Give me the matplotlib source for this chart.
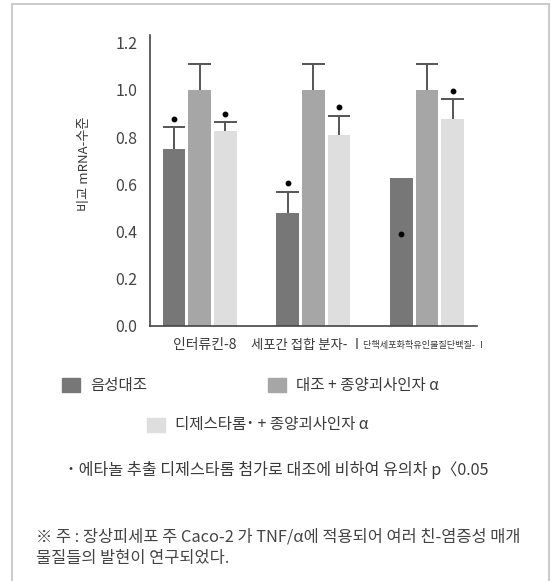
import matplotlib.pyplot as plt
from matplotlib.patches import Rectangle
import numpy as np

plt.rcParams['font.family'] = ['Noto Sans CJK KR', 'DejaVu Sans']

groups = ['인터류킨-8', '세포간 접합 분자- Ⅰ', '단핵세포화학유인물질단백질- Ⅰ']
series_names = ['음성대조', '대조 + 종양괴사인자 α', '디제스타롬˙ + 종양괴사인자 α']

neg_ctrl = [0.75, 0.48, 0.625]
neg_ctrl_err = [0.094, 0.089, 0.0]
tnf_ctrl = [1.0, 1.0, 1.0]
tnf_ctrl_err = [0.11, 0.11, 0.11]
dezesta = [0.826, 0.809, 0.877]
dezesta_err = [0.037, 0.082, 0.083]

# significance dots (p < 0.05)
neg_sig = [0.877, 0.604, 0.388]
dez_sig = [0.898, 0.929, 0.997]

yticks = [0.0, 0.2, 0.4, 0.6, 0.8, 1.0, 1.2]

colors = ['#777777', '#a6a6a6', '#dedede']
edge = '#555555'
txt = '#3a3a3a'
W, H = 551, 581

fig = plt.figure(figsize=(W / 100, H / 100), dpi=100)
ax = fig.add_axes([150 / W, 1 - 325.7 / H, 327 / W, 290.7 / H])

x = np.arange(len(groups))
width = 0.2
offset = 0.225
series = [(neg_ctrl, neg_ctrl_err), (tnf_ctrl, tnf_ctrl_err), (dezesta, dezesta_err)]
for i, (vals, errs) in enumerate(series):
    xs = x + (i - 1) * offset
    vals = np.array(vals)
    errs = np.array(errs)
    ax.bar(xs, vals, width, color=colors[i], zorder=2)
    # upper half error bars only
    m = errs > 0
    ax.vlines(xs[m], vals[m], vals[m] + errs[m], color=edge, lw=1.4, zorder=3)
    ax.hlines(vals[m] + errs[m], xs[m] - width / 2, xs[m] + width / 2,
              color=edge, lw=1.4, zorder=3)

ax.plot(x - offset, neg_sig, 'o', color='black', markersize=3.2, zorder=4)
ax.plot(x + offset, dez_sig, 'o', color='black', markersize=3.2, zorder=4)

ax.set_xlim(-0.437, 2.44)
ax.set_ylim(0, 1.233)
ax.set_yticks(yticks)
ax.set_yticklabels([f'{t:.1f}' for t in yticks], fontsize=11.5, color='#444444')
ax.set_xticks([])
ax.tick_params(length=0)
ax.tick_params(axis='y', pad=9)
for s in ['top', 'right']:
    ax.spines[s].set_visible(False)
for s in ['left', 'bottom']:
    ax.spines[s].set_color('#444444')
    ax.spines[s].set_linewidth(1.2)
ax.set_ylabel('비교 mRNA-수준', fontsize=9.5, color=txt)
ax.yaxis.set_label_coords(-0.18, 0.556)

# category labels, the last one is long and set smaller
label_x = [205, 307, 425]
label_size = [10, 9.6, 6.6]
for lx, name, fs in zip(label_x, groups, label_size):
    fig.text(lx / W, 1 - 345 / H, name, fontsize=fs, color=txt,
             ha='center', va='center')

# legend drawn by hand: two entries on first row, one centred below
legend_items = [(62, 385, 0), (268, 385, 1), (147, 425, 2)]
for px, py, k in legend_items:
    fig.add_artist(Rectangle((px / W, 1 - (py + 7) / H), 18 / W, 14 / H,
                             transform=fig.transFigure, color=colors[k]))
    fig.text((px + 28) / W, 1 - py / H, series_names[k], fontsize=11.2,
             color=txt, va='center')

fig.text(67 / W, 1 - 470 / H, '˙ 에타놀 추출 디제스타롬 첨가로 대조에 비하여 유의차 p〈0.05',
         fontsize=11.6, color=txt, va='center')
fig.text(36 / W, 1 - 537 / H,
         '※ 주 : 장상피세포 주 Caco-2 가 TNF/α에 적용되어 여러 친-염증성 매개',
         fontsize=11.8, color='#444444', va='center')
fig.text(36 / W, 1 - 558 / H, '물질들의 발현이 연구되었다.',
         fontsize=11.8, color='#444444', va='center')

# outer frame
fig.add_artist(Rectangle((12 / W, -0.01), 537 / W, 1 - 4 / H + 0.01,
                         transform=fig.transFigure, fill=False,
                         edgecolor='#cccccc', linewidth=1.5))

fig.savefig('out.png', dpi=100)
